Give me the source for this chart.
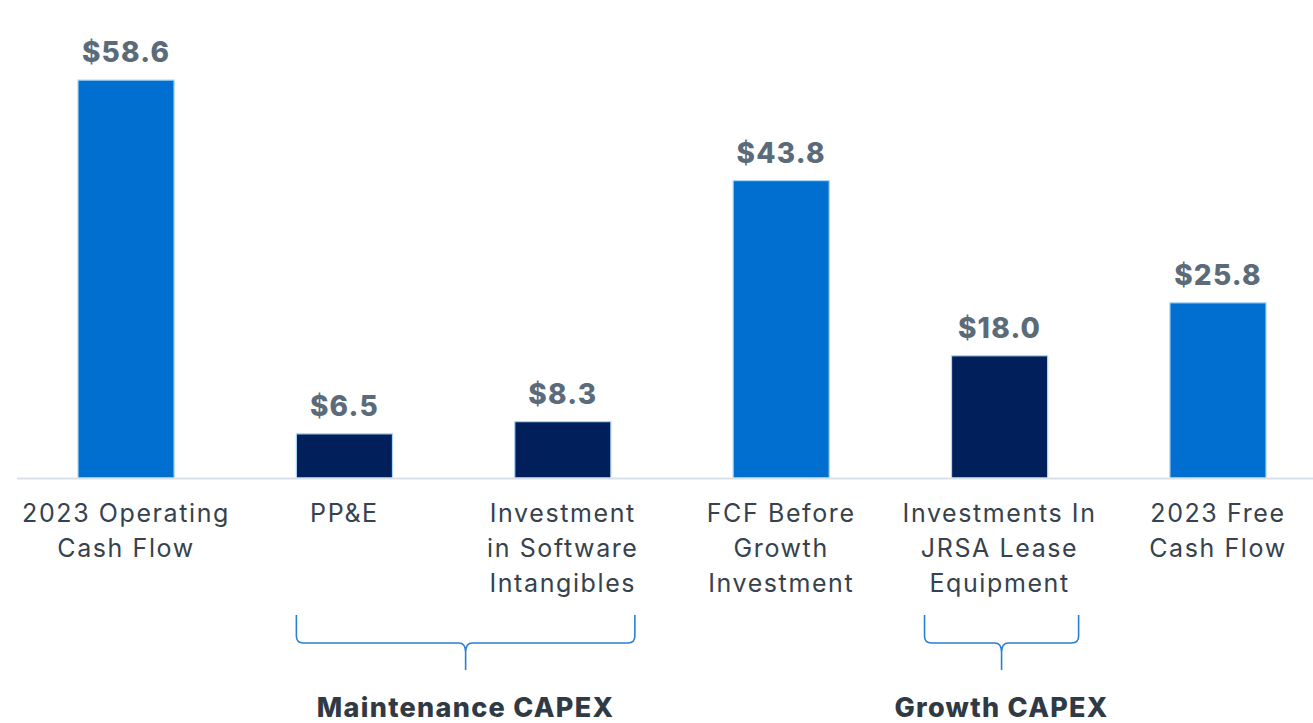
<!DOCTYPE html>
<html>
<head>
<meta charset="utf-8">
<script src="https://cdn.jsdelivr.net/npm/d3@7"></script>
<style>
  body { margin: 0; background: #fff; }
  svg { display: block; }
</style>
</head>
<body>
<div id="chart"></div>
<script>
const categories = [
  '2023 Operating Cash Flow',
  'PP&E',
  'Investment in Software Intangibles',
  'FCF Before Growth Investment',
  'Investments In JRSA Lease Equipment',
  '2023 Free Cash Flow'
]
const labelLines = [
  ['2023 Operating', 'Cash Flow'],
  ['PP&E'],
  ['Investment', 'in Software', 'Intangibles'],
  ['FCF Before', 'Growth', 'Investment'],
  ['Investments In', 'JRSA Lease', 'Equipment'],
  ['2023 Free', 'Cash Flow']
]
const values = [58.6, 6.5, 8.3, 43.8, 18.0, 25.8]
const kinds = ['total', 'capex', 'capex', 'total', 'capex', 'total']
const groups = [
  { label: 'Maintenance CAPEX', from: 'PP&E', to: 'Investment in Software Intangibles' },
  { label: 'Growth CAPEX', from: 'Investments In JRSA Lease Equipment', to: 'Investments In JRSA Lease Equipment' }
]

const width = 1313,
  height = 723
const baseY = 478
const colors = { total: '#006fcf', capex: '#001f5b' }
const font = 'Inter, sans-serif'

const svg = d3
  .select('#chart')
  .append('svg')
  .attr('width', width)
  .attr('height', height)

let x = d3
  .scaleBand()
  .domain(categories)
  .range([78, 1266])
  .paddingInner(0.56)
  .paddingOuter(0)
let y = d3
  .scaleLinear()
  .domain([0, 60])
  .range([baseY, baseY - 60 * 6.79])

// bars
svg
  .append('g')
  .selectAll('rect')
  .data(values)
  .enter()
  .append('rect')
  .attr('x', (d, i) => x(categories[i]))
  .attr('y', d => y(d))
  .attr('width', x.bandwidth())
  .attr('height', d => y(0) - y(d))
  .style('fill', (d, i) => colors[kinds[i]])
  .style('stroke', '#a9d5f7')
  .style('stroke-width', 1.2)

// baseline
svg
  .append('line')
  .attr('x1', 17)
  .attr('x2', width)
  .attr('y1', baseY + 0.5)
  .attr('y2', baseY + 0.5)
  .style('stroke', '#d9e0e8')
  .style('stroke-width', 2)

// value labels
svg
  .append('g')
  .selectAll('text')
  .data(values)
  .enter()
  .append('text')
  .attr('x', (d, i) => x(categories[i]) + x.bandwidth() / 2)
  .attr('y', d => y(d) - 18)
  .attr('text-anchor', 'middle')
  .style('font-family', font)
  .style('font-weight', 800)
  .style('font-size', '28px')
  .style('letter-spacing', '1.2px')
  .style('fill', '#5b6b7a')
  .text(d => '$' + d.toFixed(1))

// category labels
let cats = svg
  .append('g')
  .selectAll('text')
  .data(labelLines)
  .enter()
  .append('text')
  .attr('text-anchor', 'middle')
  .style('font-family', font)
  .style('font-size', '25px')
  .style('letter-spacing', '1.6px')
  .style('fill', '#36424d')
cats
  .selectAll('tspan')
  .data((d, i) => d.map(t => ({ t: t, i: i })))
  .enter()
  .append('tspan')
  .attr('x', d => x(categories[d.i]) + x.bandwidth() / 2)
  .attr('y', (d, j) => 522 + j * 35)
  .text(d => d.t)

// braces + group labels
groups.forEach(function(g) {
  let x0 = x(g.from) - (g.from === g.to ? 27 : 0)
  let x1 = x(g.to) + x.bandwidth() + (g.from === g.to ? 31 : 24)
  let xm = (x0 + x1) / 2
  let top = 615,
    mid = 643,
    tip = 670,
    r = 7
  let path =
    `M${x0},${top} V${mid - r} Q${x0},${mid} ${x0 + r},${mid} H${xm - r} Q${xm},${mid} ${xm},${mid + 9} V${tip}` +
    ` M${x1},${top} V${mid - r} Q${x1},${mid} ${x1 - r},${mid} H${xm + r} Q${xm},${mid} ${xm},${mid + 9}`
  svg
    .append('path')
    .attr('d', path)
    .style('fill', 'none')
    .style('stroke', '#2b7fd3')
    .style('stroke-width', 1.6)
  svg
    .append('text')
    .attr('x', xm)
    .attr('y', 717)
    .attr('text-anchor', 'middle')
    .style('font-family', font)
    .style('font-weight', 800)
    .style('font-size', '27px')
    .style('letter-spacing', '1.3px')
    .style('fill', '#2f3a44')
    .text(g.label)
})
</script>
</body>
</html>
